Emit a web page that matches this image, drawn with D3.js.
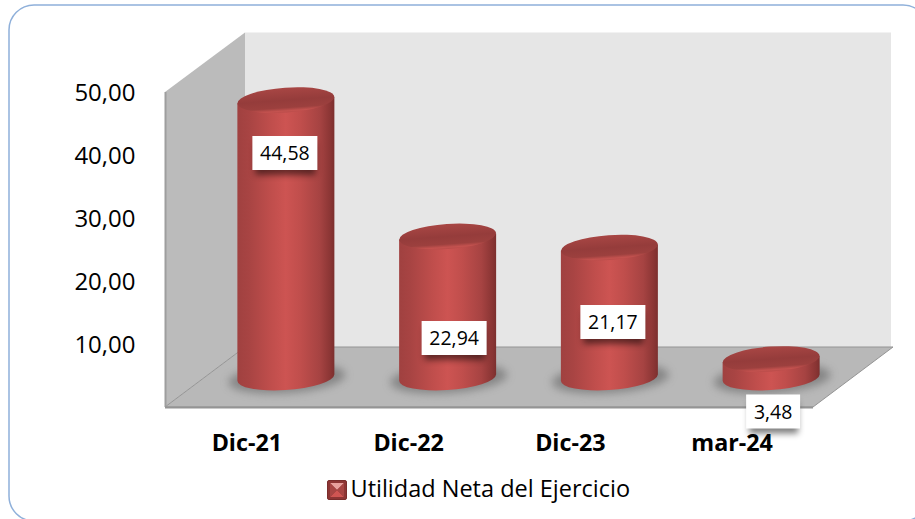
<!DOCTYPE html>
<html><head><meta charset="utf-8">
<script src="https://cdn.jsdelivr.net/npm/d3@7"></script>
<style>html,body{margin:0;padding:0;background:#fff}svg{display:block}</style>
</head><body><div id="c"></div>
<script>
const categories = ["Dic-21","Dic-22","Dic-23","mar-24"];
const values = [44.58,22.94,21.17,3.48];
const labelTexts = ["44,58","22,94","21,17","3,48"];
const tickValues = [10,20,30,40,50];
const seriesName = "Utilidad Neta del Ejercicio";

const W=915,H=519;
const svg=d3.select("#c").append("svg").attr("width",W).attr("height",H);
const defs=svg.append("defs");
const FONT="'Open Sans', 'Noto Sans', sans-serif";

const bodyG=defs.append("linearGradient").attr("id","body");
[[0,"#a04140"],[.12,"#a84443"],[.35,"#c04e4c"],[.5,"#cd5452"],[.65,"#c04e4c"],[.85,"#a64342"],[.96,"#8a3534"],[1,"#7c2f2e"]]
 .forEach(s=>bodyG.append("stop").attr("offset",s[0]).attr("stop-color",s[1]));
const topG=defs.append("linearGradient").attr("id","top").attr("x1",0).attr("x2",0).attr("y1",0).attr("y2",1);
[[0,"#a84644"],[.5,"#953c3b"],[.8,"#9c403e"],[.93,"#c4524f"],[1,"#b94b49"]]
 .forEach(s=>topG.append("stop").attr("offset",s[0]).attr("stop-color",s[1]));
const f=defs.append("filter").attr("id","blur").attr("x","-30%").attr("y","-60%").attr("width","160%").attr("height","220%");
f.append("feGaussianBlur").attr("stdDeviation",4);
const f2=defs.append("filter").attr("id","lblur").attr("x","-30%").attr("y","-50%").attr("width","160%").attr("height","200%");
f2.append("feGaussianBlur").attr("stdDeviation",3);

svg.append("rect").attr("x",9).attr("y",5).attr("width",919).attr("height",516).attr("rx",25)
  .attr("fill","#fff").attr("stroke","#8fb0da").attr("stroke-width",1.5);

// 3D frame
const frontX=165, depthX=80, depthY=60, floorW=648;
const yFront=d3.scaleLinear().domain([0,50]).range([407,92]);
const x=d3.scaleBand().domain(categories).range([frontX+40,frontX+40+floorW-1]).padding(0);
const rx=48.5, ry=12.5, base=377.5, tilt=-4;
const yBar=d3.scaleLinear().domain([0,50]).range([381,66]);

const y0=yFront(0), yT=yFront(50);
svg.append("path").attr("d",`M${frontX+depthX},${yT-depthY+.5}H${frontX+depthX+floorW-2}V${y0-depthY}H${frontX+depthX}Z`).attr("fill","#e6e6e6");
svg.append("path").attr("d",`M${frontX},${yT}L${frontX+depthX},${yT-depthY+.5}V${y0-depthY}L${frontX},${y0}Z`).attr("fill","#bbbbbb");
svg.append("path").attr("d",`M${frontX},${y0}L${frontX+depthX},${y0-depthY}H${frontX+depthX+floorW}L${frontX+floorW},${y0}Z`).attr("fill","#b8b8b8").attr("stroke","#949494").attr("stroke-width",1);
svg.append("line").attr("x1",frontX+.5).attr("x2",frontX+.5).attr("y1",yT).attr("y2",y0).attr("stroke","#9e9e9e").attr("stroke-width",2);
svg.append("line").attr("x1",frontX).attr("x2",frontX+floorW).attr("y1",y0+.5).attr("y2",y0+.5).attr("stroke","#949494").attr("stroke-width",2);

// y ticks
svg.append("g").selectAll("text").data(tickValues).join("text")
 .attr("x",135.5).attr("y",v=>yFront(v)+8.5).attr("text-anchor","end")
 .attr("font-family",FONT).attr("font-size",24).attr("fill","#000")
 .text(v=>v.toFixed(2).replace(".",","));

// cylinders
const g=svg.append("g").selectAll("g").data(categories).join("g")
 .attr("transform",c=>`translate(${x(c)+x.bandwidth()/2},0)`);
g.append("ellipse").attr("cx",1).attr("cy",base+1).attr("rx",rx+10).attr("ry",ry+2)
 .attr("transform",`rotate(${tilt} 1 ${base})`).attr("fill","#707070").attr("opacity",.7).attr("filter","url(#blur)");
g.append("path").attr("fill","url(#body)").attr("d",(c,i)=>{
  const t=yBar(values[i]);
  const dy=rx*Math.tan(-tilt*Math.PI/180)*0.9;
  return `M${-rx},${t+dy}L${-rx},${base+dy}A${rx},${ry} ${tilt} 0 0 ${rx},${base-dy}L${rx},${t-dy}Z`;
});
g.append("ellipse").attr("rx",rx).attr("ry",ry).attr("cy",(c,i)=>yBar(values[i]))
 .attr("transform",(c,i)=>`rotate(${tilt} 0 ${yBar(values[i])})`).attr("fill","url(#top)");

// x labels (drawn below data labels, whose shadow falls over them)
svg.append("g").selectAll("text").data(categories).join("text")
 .attr("x",c=>x(c)+x.bandwidth()/2-39).attr("y",450.5).attr("text-anchor","middle")
 .attr("font-family",FONT).attr("font-size",23.3).attr("font-weight",700).attr("fill","#000").text(c=>c);

// data labels
const labelOffsetX=[-1,6.5,3.5,2], labelCenterY=[153,338,322,411.5], lw=[65,65,65,54], lh=34;
const lab=svg.append("g").selectAll("g").data(categories).join("g")
 .attr("transform",(c,i)=>`translate(${x(c)+x.bandwidth()/2+labelOffsetX[i]},${labelCenterY[i]})`);
lab.append("rect").attr("x",(c,i)=>-lw[i]/2+3).attr("y",-lh/2+7).attr("width",(c,i)=>lw[i]-5).attr("height",lh-2)
 .attr("fill","#000").attr("opacity",.5).attr("filter","url(#lblur)");
lab.append("rect").attr("x",(c,i)=>-lw[i]/2).attr("y",-lh/2).attr("width",(c,i)=>lw[i]).attr("height",lh).attr("fill","#fff");
lab.append("text").attr("text-anchor","middle").attr("y",7).attr("font-family",FONT).attr("font-size",19.5).attr("fill","#000")
 .text((c,i)=>labelTexts[i]);

// legend
const lg=svg.append("g").attr("transform","translate(327,480)");
lg.append("rect").attr("x",.5).attr("y",.5).attr("width",19).attr("height",19).attr("rx",1.5).attr("fill","#8d3534").attr("stroke","#7a2d2c");
lg.append("path").attr("d","M3,3H17L10,10Z").attr("fill","#e8a09d");
lg.append("path").attr("d","M3,17L10,10L17,17Z").attr("fill","#cf5552");
lg.append("path").attr("d","M3,3L10,10L3,17Z").attr("fill","#a84543");
lg.append("path").attr("d","M17,3L10,10L17,17Z").attr("fill","#a84543");
lg.append("text").attr("x",23.5).attr("y",17).attr("font-family",FONT).attr("font-size",23.5).attr("fill","#000").text(seriesName);
</script></body></html>
